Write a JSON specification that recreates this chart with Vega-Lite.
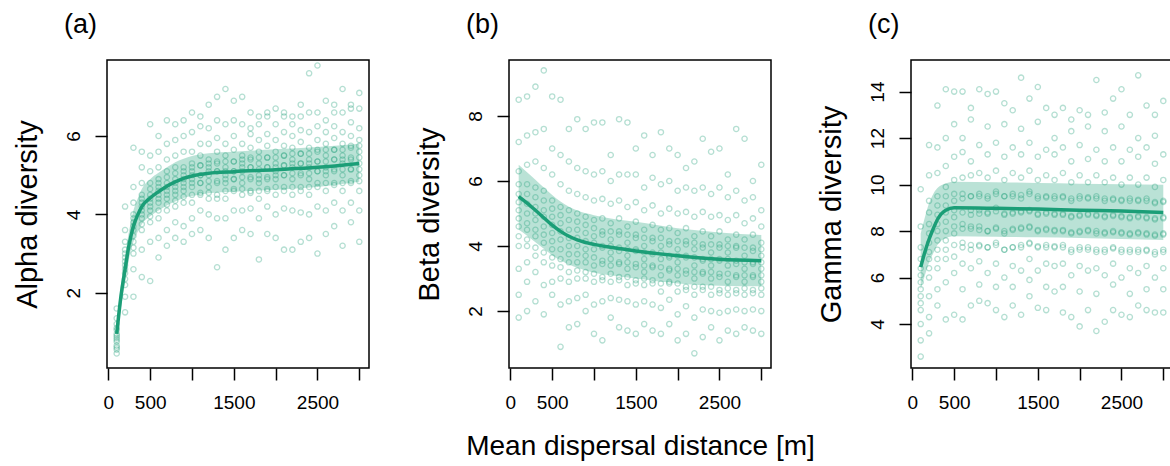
{
"$schema": "https://vega.github.io/schema/vega-lite/v6.json",
"padding": {"left": 12, "top": 10, "right": 0, "bottom": 0},
"bounds": "flush",
"spacing": 140,
"config": {
  "font": "Liberation Sans",
  "view": {"stroke": "#000", "strokeWidth": 1.5},
  "axis": {"grid": false, "domain": false, "tickColor": "#000", "tickWidth": 1.5, "tickSize": 12, "labelFontSize": 19, "labelColor": "#000", "titleFontSize": 29, "titleFontWeight": "normal", "titleColor": "#000", "labelFont": "Liberation Sans", "titleFont": "Liberation Sans"},
  "axisY": {"labelAngle": -90, "labelPadding": 12, "titlePadding": 22, "labelOverlap": false},
  "axisX": {"labelPadding": 13, "titlePadding": 20, "titleFontSize": 28, "labelFlush": false, "labelOverlap": false, "format": "d"},
  "title": {"fontSize": 27, "fontWeight": "normal", "anchor": "start", "frame": "group", "dx": -43, "offset": 21, "baseline": "alphabetic", "font": "Liberation Sans", "color": "#000"}
},
"datasets": {
"pa": [
{"x":100,"y":0.45},{"x":100,"y":0.55},{"x":100,"y":0.65},{"x":100,"y":0.75},{"x":100,"y":0.85},{"x":100,"y":0.95},{"x":100,"y":1.05},{"x":100,"y":1.2},{"x":100,"y":1.35},{"x":100,"y":1.6},
{"x":200,"y":1.5},{"x":200,"y":1.9},{"x":200,"y":2.2},{"x":200,"y":2.5},{"x":200,"y":2.7},{"x":200,"y":2.9},{"x":200,"y":3.1},{"x":200,"y":3.3},{"x":200,"y":3.6},{"x":200,"y":4.2},
{"x":300,"y":1.9},{"x":300,"y":2.6},{"x":300,"y":3.0},{"x":300,"y":3.3},{"x":300,"y":3.6},{"x":300,"y":3.8},{"x":300,"y":4.0},{"x":300,"y":4.3},{"x":300,"y":4.7},{"x":300,"y":5.7},
{"x":400,"y":2.4},{"x":400,"y":3.1},{"x":400,"y":3.6},{"x":400,"y":3.9},{"x":400,"y":4.1},{"x":400,"y":4.3},{"x":400,"y":4.5},{"x":400,"y":4.8},{"x":400,"y":5.2},{"x":400,"y":5.6},
{"x":500,"y":2.3},{"x":500,"y":3.3},{"x":500,"y":3.8},{"x":500,"y":4.1},{"x":500,"y":4.3},{"x":500,"y":4.5},{"x":500,"y":4.8},{"x":500,"y":5.1},{"x":500,"y":5.5},{"x":500,"y":6.3},
{"x":600,"y":2.9},{"x":600,"y":3.4},{"x":600,"y":3.9},{"x":600,"y":4.3},{"x":600,"y":4.5},{"x":600,"y":4.7},{"x":600,"y":4.9},{"x":600,"y":5.2},{"x":600,"y":5.6},{"x":600,"y":6.0},
{"x":700,"y":3.2},{"x":700,"y":3.6},{"x":700,"y":4.1},{"x":700,"y":4.4},{"x":700,"y":4.6},{"x":700,"y":4.8},{"x":700,"y":5.1},{"x":700,"y":5.4},{"x":700,"y":5.8},{"x":700,"y":6.4},
{"x":800,"y":3.4},{"x":800,"y":3.8},{"x":800,"y":4.2},{"x":800,"y":4.5},{"x":800,"y":4.7},{"x":800,"y":4.9},{"x":800,"y":5.2},{"x":800,"y":5.5},{"x":800,"y":5.9},{"x":800,"y":6.3},
{"x":900,"y":3.3},{"x":900,"y":3.7},{"x":900,"y":4.3},{"x":900,"y":4.6},{"x":900,"y":4.8},{"x":900,"y":5.0},{"x":900,"y":5.2},{"x":900,"y":5.6},{"x":900,"y":6.0},{"x":900,"y":6.4},
{"x":1000,"y":3.5},{"x":1000,"y":3.9},{"x":1000,"y":4.3},{"x":1000,"y":4.7},{"x":1000,"y":4.9},{"x":1000,"y":5.1},{"x":1000,"y":5.3},{"x":1000,"y":5.6},{"x":1000,"y":6.1},{"x":1000,"y":6.6},
{"x":1100,"y":3.6},{"x":1100,"y":4.1},{"x":1100,"y":4.5},{"x":1100,"y":4.8},{"x":1100,"y":5.0},{"x":1100,"y":5.25},{"x":1100,"y":5.5},{"x":1100,"y":5.8},{"x":1100,"y":6.25},{"x":1100,"y":6.5},
{"x":1200,"y":3.4},{"x":1200,"y":4.0},{"x":1200,"y":4.4},{"x":1200,"y":4.7},{"x":1200,"y":5.0},{"x":1200,"y":5.2},{"x":1200,"y":5.4},{"x":1200,"y":5.8},{"x":1200,"y":6.2},{"x":1200,"y":6.8},
{"x":1300,"y":2.65},{"x":1300,"y":3.9},{"x":1300,"y":4.4},{"x":1300,"y":4.8},{"x":1300,"y":5.1},{"x":1300,"y":5.3},{"x":1300,"y":5.6},{"x":1300,"y":5.95},{"x":1300,"y":6.4},{"x":1300,"y":7.0},
{"x":1400,"y":3.1},{"x":1400,"y":3.9},{"x":1400,"y":4.4},{"x":1400,"y":4.8},{"x":1400,"y":5.0},{"x":1400,"y":5.2},{"x":1400,"y":5.5},{"x":1400,"y":5.8},{"x":1400,"y":6.3},{"x":1400,"y":7.2},
{"x":1500,"y":3.4},{"x":1500,"y":4.1},{"x":1500,"y":4.6},{"x":1500,"y":4.9},{"x":1500,"y":5.1},{"x":1500,"y":5.35},{"x":1500,"y":5.65},{"x":1500,"y":6.0},{"x":1500,"y":6.4},{"x":1500,"y":6.9},
{"x":1600,"y":3.6},{"x":1600,"y":4.1},{"x":1600,"y":4.5},{"x":1600,"y":4.8},{"x":1600,"y":5.1},{"x":1600,"y":5.3},{"x":1600,"y":5.5},{"x":1600,"y":5.8},{"x":1600,"y":6.3},{"x":1600,"y":7.0},
{"x":1700,"y":3.5},{"x":1700,"y":4.15},{"x":1700,"y":4.55},{"x":1700,"y":4.9},{"x":1700,"y":5.2},{"x":1700,"y":5.4},{"x":1700,"y":5.7},{"x":1700,"y":6.05},{"x":1700,"y":6.2},{"x":1700,"y":6.6},
{"x":1800,"y":2.85},{"x":1800,"y":3.9},{"x":1800,"y":4.4},{"x":1800,"y":4.8},{"x":1800,"y":5.0},{"x":1800,"y":5.3},{"x":1800,"y":5.6},{"x":1800,"y":5.9},{"x":1800,"y":6.3},{"x":1800,"y":6.5},
{"x":1900,"y":3.5},{"x":1900,"y":4.2},{"x":1900,"y":4.6},{"x":1900,"y":4.9},{"x":1900,"y":5.2},{"x":1900,"y":5.45},{"x":1900,"y":5.75},{"x":1900,"y":6.05},{"x":1900,"y":6.5},{"x":1900,"y":6.6},
{"x":2000,"y":3.4},{"x":2000,"y":4.0},{"x":2000,"y":4.5},{"x":2000,"y":4.9},{"x":2000,"y":5.1},{"x":2000,"y":5.3},{"x":2000,"y":5.6},{"x":2000,"y":5.9},{"x":2000,"y":6.3},{"x":2000,"y":6.7},
{"x":2100,"y":3.1},{"x":2100,"y":4.15},{"x":2100,"y":4.6},{"x":2100,"y":5.0},{"x":2100,"y":5.25},{"x":2100,"y":5.5},{"x":2100,"y":5.75},{"x":2100,"y":6.1},{"x":2100,"y":6.5},{"x":2100,"y":6.6},
{"x":2200,"y":3.1},{"x":2200,"y":4.1},{"x":2200,"y":4.5},{"x":2200,"y":4.9},{"x":2200,"y":5.2},{"x":2200,"y":5.4},{"x":2200,"y":5.7},{"x":2200,"y":6.0},{"x":2200,"y":6.3},{"x":2200,"y":6.5},
{"x":2300,"y":3.3},{"x":2300,"y":4.05},{"x":2300,"y":4.6},{"x":2300,"y":5.0},{"x":2300,"y":5.3},{"x":2300,"y":5.55},{"x":2300,"y":5.85},{"x":2300,"y":6.15},{"x":2300,"y":6.5},{"x":2300,"y":6.8},
{"x":2400,"y":3.4},{"x":2400,"y":4.0},{"x":2400,"y":4.5},{"x":2400,"y":4.9},{"x":2400,"y":5.2},{"x":2400,"y":5.4},{"x":2400,"y":5.7},{"x":2400,"y":6.1},{"x":2400,"y":6.6},{"x":2400,"y":7.6},
{"x":2500,"y":3.0},{"x":2500,"y":4.2},{"x":2500,"y":4.7},{"x":2500,"y":5.1},{"x":2500,"y":5.35},{"x":2500,"y":5.6},{"x":2500,"y":5.9},{"x":2500,"y":6.25},{"x":2500,"y":6.6},{"x":2500,"y":7.8},
{"x":2600,"y":3.5},{"x":2600,"y":4.1},{"x":2600,"y":4.6},{"x":2600,"y":5.0},{"x":2600,"y":5.2},{"x":2600,"y":5.5},{"x":2600,"y":5.8},{"x":2600,"y":6.1},{"x":2600,"y":6.4},{"x":2600,"y":6.9},
{"x":2700,"y":3.7},{"x":2700,"y":4.3},{"x":2700,"y":4.75},{"x":2700,"y":5.1},{"x":2700,"y":5.4},{"x":2700,"y":5.65},{"x":2700,"y":5.95},{"x":2700,"y":6.25},{"x":2700,"y":6.6},{"x":2700,"y":6.8},
{"x":2800,"y":3.2},{"x":2800,"y":4.1},{"x":2800,"y":4.6},{"x":2800,"y":5.0},{"x":2800,"y":5.3},{"x":2800,"y":5.5},{"x":2800,"y":5.8},{"x":2800,"y":6.1},{"x":2800,"y":6.6},{"x":2800,"y":7.2},
{"x":2900,"y":3.8},{"x":2900,"y":4.3},{"x":2900,"y":4.8},{"x":2900,"y":5.15},{"x":2900,"y":5.4},{"x":2900,"y":5.7},{"x":2900,"y":6.0},{"x":2900,"y":6.35},{"x":2900,"y":6.7},{"x":2900,"y":6.8},
{"x":3000,"y":3.3},{"x":3000,"y":4.1},{"x":3000,"y":4.6},{"x":3000,"y":5.0},{"x":3000,"y":5.3},{"x":3000,"y":5.6},{"x":3000,"y":5.9},{"x":3000,"y":6.2},{"x":3000,"y":6.7},{"x":3000,"y":7.1},
{"x":100,"y":0.6},{"x":100,"y":0.8},{"x":100,"y":0.9},{"x":100,"y":1.1},
{"x":200,"y":2.35},{"x":200,"y":2.6},{"x":200,"y":2.8},{"x":200,"y":3.0},
{"x":300,"y":3.15},{"x":300,"y":3.45},{"x":300,"y":3.7},{"x":300,"y":3.9},
{"x":400,"y":3.75},{"x":400,"y":4.0},{"x":400,"y":4.2},{"x":400,"y":4.4},
{"x":500,"y":3.95},{"x":500,"y":4.2},{"x":500,"y":4.4},{"x":500,"y":4.65},
{"x":600,"y":4.1},{"x":600,"y":4.4},{"x":600,"y":4.6},{"x":600,"y":4.8},
{"x":700,"y":4.25},{"x":700,"y":4.5},{"x":700,"y":4.7},{"x":700,"y":4.95},
{"x":800,"y":4.35},{"x":800,"y":4.6},{"x":800,"y":4.8},{"x":800,"y":5.05},
{"x":900,"y":4.45},{"x":900,"y":4.7},{"x":900,"y":4.9},{"x":900,"y":5.1},
{"x":1000,"y":4.5},{"x":1000,"y":4.8},{"x":1000,"y":5.0},{"x":1000,"y":5.2},
{"x":1100,"y":4.55},{"x":1100,"y":4.8},{"x":1100,"y":5.0},{"x":1100,"y":5.25},
{"x":1200,"y":4.55},{"x":1200,"y":4.85},{"x":1200,"y":5.1},{"x":1200,"y":5.3},
{"x":1300,"y":4.5},{"x":1300,"y":4.85},{"x":1300,"y":5.1},{"x":1300,"y":5.35},
{"x":1400,"y":4.6},{"x":1400,"y":4.9},{"x":1400,"y":5.1},{"x":1400,"y":5.35},
{"x":1500,"y":4.65},{"x":1500,"y":4.9},{"x":1500,"y":5.1},{"x":1500,"y":5.35},
{"x":1600,"y":4.65},{"x":1600,"y":4.95},{"x":1600,"y":5.2},{"x":1600,"y":5.4},
{"x":1700,"y":4.6},{"x":1700,"y":4.95},{"x":1700,"y":5.2},{"x":1700,"y":5.45},
{"x":1800,"y":4.6},{"x":1800,"y":4.9},{"x":1800,"y":5.15},{"x":1800,"y":5.45},
{"x":1900,"y":4.65},{"x":1900,"y":4.95},{"x":1900,"y":5.2},{"x":1900,"y":5.45},
{"x":2000,"y":4.7},{"x":2000,"y":5.0},{"x":2000,"y":5.2},{"x":2000,"y":5.45},
{"x":2100,"y":4.7},{"x":2100,"y":5.0},{"x":2100,"y":5.25},{"x":2100,"y":5.5},
{"x":2200,"y":4.7},{"x":2200,"y":5.05},{"x":2200,"y":5.3},{"x":2200,"y":5.55},
{"x":2300,"y":4.7},{"x":2300,"y":5.05},{"x":2300,"y":5.3},{"x":2300,"y":5.55},
{"x":2400,"y":4.7},{"x":2400,"y":5.05},{"x":2400,"y":5.3},{"x":2400,"y":5.55},
{"x":2500,"y":4.8},{"x":2500,"y":5.1},{"x":2500,"y":5.35},{"x":2500,"y":5.65},
{"x":2600,"y":4.8},{"x":2600,"y":5.1},{"x":2600,"y":5.35},{"x":2600,"y":5.65},
{"x":2700,"y":4.8},{"x":2700,"y":5.15},{"x":2700,"y":5.4},{"x":2700,"y":5.65},
{"x":2800,"y":4.8},{"x":2800,"y":5.15},{"x":2800,"y":5.4},{"x":2800,"y":5.65},
{"x":2900,"y":4.85},{"x":2900,"y":5.15},{"x":2900,"y":5.45},{"x":2900,"y":5.75},
{"x":3000,"y":4.85},{"x":3000,"y":5.15},{"x":3000,"y":5.45},{"x":3000,"y":5.75}
],
"pb": [
{"x":100,"y":1.8},{"x":100,"y":2.5},{"x":100,"y":3.3},{"x":100,"y":4.0},{"x":100,"y":4.6},{"x":100,"y":5.1},{"x":100,"y":5.6},{"x":100,"y":6.3},{"x":100,"y":7.2},{"x":100,"y":8.5},
{"x":200,"y":2.0},{"x":200,"y":2.9},{"x":200,"y":3.5},{"x":200,"y":4.2},{"x":200,"y":4.7},{"x":200,"y":5.3},{"x":200,"y":5.9},{"x":200,"y":6.5},{"x":200,"y":7.4},{"x":200,"y":8.6},
{"x":300,"y":2.3},{"x":300,"y":3.2},{"x":300,"y":3.7},{"x":300,"y":4.3},{"x":300,"y":4.8},{"x":300,"y":5.2},{"x":300,"y":5.8},{"x":300,"y":6.6},{"x":300,"y":7.5},{"x":300,"y":8.9},
{"x":400,"y":1.9},{"x":400,"y":2.8},{"x":400,"y":3.5},{"x":400,"y":4.1},{"x":400,"y":4.6},{"x":400,"y":5.1},{"x":400,"y":5.7},{"x":400,"y":6.4},{"x":400,"y":7.6},{"x":400,"y":9.4},
{"x":500,"y":2.5},{"x":500,"y":2.9},{"x":500,"y":3.4},{"x":500,"y":3.9},{"x":500,"y":4.4},{"x":500,"y":4.9},{"x":500,"y":5.4},{"x":500,"y":6.2},{"x":500,"y":7.0},{"x":500,"y":8.6},
{"x":600,"y":0.9},{"x":600,"y":2.2},{"x":600,"y":3.0},{"x":600,"y":3.6},{"x":600,"y":4.2},{"x":600,"y":4.7},{"x":600,"y":5.2},{"x":600,"y":5.9},{"x":600,"y":6.8},{"x":600,"y":8.5},
{"x":700,"y":1.5},{"x":700,"y":2.3},{"x":700,"y":2.9},{"x":700,"y":3.5},{"x":700,"y":4.0},{"x":700,"y":4.5},{"x":700,"y":5.1},{"x":700,"y":5.7},{"x":700,"y":6.6},{"x":700,"y":7.6},
{"x":800,"y":1.6},{"x":800,"y":2.4},{"x":800,"y":3.0},{"x":800,"y":3.5},{"x":800,"y":4.0},{"x":800,"y":4.5},{"x":800,"y":5.0},{"x":800,"y":5.6},{"x":800,"y":6.4},{"x":800,"y":7.9},
{"x":900,"y":2.0},{"x":900,"y":2.5},{"x":900,"y":3.0},{"x":900,"y":3.5},{"x":900,"y":3.9},{"x":900,"y":4.4},{"x":900,"y":4.9},{"x":900,"y":5.5},{"x":900,"y":6.3},{"x":900,"y":7.6},
{"x":1000,"y":1.3},{"x":1000,"y":2.2},{"x":1000,"y":2.9},{"x":1000,"y":3.4},{"x":1000,"y":3.9},{"x":1000,"y":4.3},{"x":1000,"y":4.8},{"x":1000,"y":5.4},{"x":1000,"y":6.2},{"x":1000,"y":7.8},
{"x":1100,"y":1.1},{"x":1100,"y":2.3},{"x":1100,"y":2.95},{"x":1100,"y":3.45},{"x":1100,"y":3.95},{"x":1100,"y":4.35},{"x":1100,"y":4.85},{"x":1100,"y":5.45},{"x":1100,"y":6.3},{"x":1100,"y":7.8},
{"x":1200,"y":1.8},{"x":1200,"y":2.4},{"x":1200,"y":2.9},{"x":1200,"y":3.4},{"x":1200,"y":3.8},{"x":1200,"y":4.2},{"x":1200,"y":4.7},{"x":1200,"y":5.3},{"x":1200,"y":6.0},{"x":1200,"y":6.8},
{"x":1300,"y":1.5},{"x":1300,"y":2.35},{"x":1300,"y":2.95},{"x":1300,"y":3.45},{"x":1300,"y":3.85},{"x":1300,"y":4.35},{"x":1300,"y":4.85},{"x":1300,"y":5.4},{"x":1300,"y":6.2},{"x":1300,"y":7.9},
{"x":1400,"y":1.4},{"x":1400,"y":2.3},{"x":1400,"y":2.8},{"x":1400,"y":3.3},{"x":1400,"y":3.7},{"x":1400,"y":4.1},{"x":1400,"y":4.6},{"x":1400,"y":5.2},{"x":1400,"y":6.2},{"x":1400,"y":7.8},
{"x":1500,"y":1.3},{"x":1500,"y":2.2},{"x":1500,"y":2.85},{"x":1500,"y":3.35},{"x":1500,"y":3.85},{"x":1500,"y":4.25},{"x":1500,"y":4.75},{"x":1500,"y":5.35},{"x":1500,"y":6.2},{"x":1500,"y":7.0},
{"x":1600,"y":1.6},{"x":1600,"y":2.3},{"x":1600,"y":2.8},{"x":1600,"y":3.2},{"x":1600,"y":3.6},{"x":1600,"y":4.0},{"x":1600,"y":4.5},{"x":1600,"y":5.1},{"x":1600,"y":5.8},{"x":1600,"y":7.4},
{"x":1700,"y":1.4},{"x":1700,"y":2.2},{"x":1700,"y":2.85},{"x":1700,"y":3.35},{"x":1700,"y":3.75},{"x":1700,"y":4.15},{"x":1700,"y":4.65},{"x":1700,"y":5.25},{"x":1700,"y":6.1},{"x":1700,"y":6.8},
{"x":1800,"y":1.3},{"x":1800,"y":2.1},{"x":1800,"y":2.6},{"x":1800,"y":3.1},{"x":1800,"y":3.6},{"x":1800,"y":4.0},{"x":1800,"y":4.5},{"x":1800,"y":5.0},{"x":1800,"y":5.9},{"x":1800,"y":7.5},
{"x":1900,"y":1.6},{"x":1900,"y":2.35},{"x":1900,"y":2.85},{"x":1900,"y":3.25},{"x":1900,"y":3.65},{"x":1900,"y":4.05},{"x":1900,"y":4.55},{"x":1900,"y":5.15},{"x":1900,"y":6.0},{"x":1900,"y":7.0},
{"x":2000,"y":1.1},{"x":2000,"y":1.9},{"x":2000,"y":2.6},{"x":2000,"y":3.1},{"x":2000,"y":3.5},{"x":2000,"y":3.9},{"x":2000,"y":4.4},{"x":2000,"y":5.0},{"x":2000,"y":5.7},{"x":2000,"y":6.8},
{"x":2100,"y":1.3},{"x":2100,"y":2.15},{"x":2100,"y":2.65},{"x":2100,"y":3.15},{"x":2100,"y":3.65},{"x":2100,"y":4.05},{"x":2100,"y":4.55},{"x":2100,"y":5.05},{"x":2100,"y":5.8},{"x":2100,"y":6.4},
{"x":2200,"y":0.7},{"x":2200,"y":1.8},{"x":2200,"y":2.5},{"x":2200,"y":3.0},{"x":2200,"y":3.4},{"x":2200,"y":3.9},{"x":2200,"y":4.3},{"x":2200,"y":4.9},{"x":2200,"y":5.7},{"x":2200,"y":6.6},
{"x":2300,"y":1.2},{"x":2300,"y":2.05},{"x":2300,"y":2.65},{"x":2300,"y":3.15},{"x":2300,"y":3.55},{"x":2300,"y":3.95},{"x":2300,"y":4.45},{"x":2300,"y":5.05},{"x":2300,"y":5.8},{"x":2300,"y":7.3},
{"x":2400,"y":1.5},{"x":2400,"y":2.0},{"x":2400,"y":2.5},{"x":2400,"y":3.0},{"x":2400,"y":3.4},{"x":2400,"y":3.8},{"x":2400,"y":4.3},{"x":2400,"y":4.9},{"x":2400,"y":5.6},{"x":2400,"y":6.9},
{"x":2500,"y":1.1},{"x":2500,"y":1.95},{"x":2500,"y":2.55},{"x":2500,"y":3.05},{"x":2500,"y":3.55},{"x":2500,"y":3.95},{"x":2500,"y":4.45},{"x":2500,"y":4.95},{"x":2500,"y":5.8},{"x":2500,"y":7.0},
{"x":2600,"y":1.4},{"x":2600,"y":2.0},{"x":2600,"y":2.5},{"x":2600,"y":2.9},{"x":2600,"y":3.4},{"x":2600,"y":3.8},{"x":2600,"y":4.2},{"x":2600,"y":4.8},{"x":2600,"y":5.5},{"x":2600,"y":6.2},
{"x":2700,"y":1.3},{"x":2700,"y":2.05},{"x":2700,"y":2.55},{"x":2700,"y":3.05},{"x":2700,"y":3.45},{"x":2700,"y":3.95},{"x":2700,"y":4.35},{"x":2700,"y":4.95},{"x":2700,"y":5.7},{"x":2700,"y":7.6},
{"x":2800,"y":1.5},{"x":2800,"y":2.0},{"x":2800,"y":2.5},{"x":2800,"y":2.9},{"x":2800,"y":3.3},{"x":2800,"y":3.7},{"x":2800,"y":4.2},{"x":2800,"y":4.7},{"x":2800,"y":5.4},{"x":2800,"y":7.3},
{"x":2900,"y":1.4},{"x":2900,"y":2.05},{"x":2900,"y":2.55},{"x":2900,"y":3.05},{"x":2900,"y":3.45},{"x":2900,"y":3.85},{"x":2900,"y":4.35},{"x":2900,"y":4.85},{"x":2900,"y":5.5},{"x":2900,"y":6.0},
{"x":3000,"y":1.3},{"x":3000,"y":2.0},{"x":3000,"y":2.5},{"x":3000,"y":2.9},{"x":3000,"y":3.3},{"x":3000,"y":3.7},{"x":3000,"y":4.1},{"x":3000,"y":4.6},{"x":3000,"y":5.1},{"x":3000,"y":6.5},
{"x":100,"y":4.3},{"x":100,"y":4.85},{"x":100,"y":5.35},{"x":100,"y":5.9},
{"x":200,"y":4.0},{"x":200,"y":4.5},{"x":200,"y":5.0},{"x":200,"y":5.6},
{"x":300,"y":3.95},{"x":300,"y":4.5},{"x":300,"y":5.0},{"x":300,"y":5.5},
{"x":400,"y":3.8},{"x":400,"y":4.35},{"x":400,"y":4.9},{"x":400,"y":5.4},
{"x":500,"y":3.65},{"x":500,"y":4.15},{"x":500,"y":4.65},{"x":500,"y":5.15},
{"x":600,"y":3.35},{"x":600,"y":3.9},{"x":600,"y":4.45},{"x":600,"y":4.95},
{"x":700,"y":3.2},{"x":700,"y":3.75},{"x":700,"y":4.25},{"x":700,"y":4.8},
{"x":800,"y":3.25},{"x":800,"y":3.75},{"x":800,"y":4.25},{"x":800,"y":4.75},
{"x":900,"y":3.2},{"x":900,"y":3.7},{"x":900,"y":4.15},{"x":900,"y":4.65},
{"x":1000,"y":3.15},{"x":1000,"y":3.65},{"x":1000,"y":4.1},{"x":1000,"y":4.55},
{"x":1100,"y":3.05},{"x":1100,"y":3.55},{"x":1100,"y":4.0},{"x":1100,"y":4.45},
{"x":1200,"y":3.15},{"x":1200,"y":3.6},{"x":1200,"y":4.0},{"x":1200,"y":4.45},
{"x":1300,"y":3.05},{"x":1300,"y":3.5},{"x":1300,"y":3.95},{"x":1300,"y":4.45},
{"x":1400,"y":3.05},{"x":1400,"y":3.5},{"x":1400,"y":3.9},{"x":1400,"y":4.35},
{"x":1500,"y":2.95},{"x":1500,"y":3.45},{"x":1500,"y":3.9},{"x":1500,"y":4.35},
{"x":1600,"y":3.0},{"x":1600,"y":3.4},{"x":1600,"y":3.8},{"x":1600,"y":4.25},
{"x":1700,"y":2.95},{"x":1700,"y":3.4},{"x":1700,"y":3.8},{"x":1700,"y":4.25},
{"x":1800,"y":2.85},{"x":1800,"y":3.35},{"x":1800,"y":3.8},{"x":1800,"y":4.25},
{"x":1900,"y":2.9},{"x":1900,"y":3.3},{"x":1900,"y":3.7},{"x":1900,"y":4.15},
{"x":2000,"y":2.85},{"x":2000,"y":3.3},{"x":2000,"y":3.7},{"x":2000,"y":4.15},
{"x":2100,"y":2.75},{"x":2100,"y":3.25},{"x":2100,"y":3.7},{"x":2100,"y":4.15},
{"x":2200,"y":2.75},{"x":2200,"y":3.2},{"x":2200,"y":3.65},{"x":2200,"y":4.1},
{"x":2300,"y":2.75},{"x":2300,"y":3.2},{"x":2300,"y":3.6},{"x":2300,"y":4.05},
{"x":2400,"y":2.75},{"x":2400,"y":3.2},{"x":2400,"y":3.6},{"x":2400,"y":4.05},
{"x":2500,"y":2.65},{"x":2500,"y":3.15},{"x":2500,"y":3.6},{"x":2500,"y":4.05},
{"x":2600,"y":2.7},{"x":2600,"y":3.15},{"x":2600,"y":3.6},{"x":2600,"y":4.0},
{"x":2700,"y":2.65},{"x":2700,"y":3.1},{"x":2700,"y":3.55},{"x":2700,"y":4.0},
{"x":2800,"y":2.7},{"x":2800,"y":3.1},{"x":2800,"y":3.5},{"x":2800,"y":3.95},
{"x":2900,"y":2.65},{"x":2900,"y":3.1},{"x":2900,"y":3.5},{"x":2900,"y":3.95},
{"x":3000,"y":2.7},{"x":3000,"y":3.1},{"x":3000,"y":3.5},{"x":3000,"y":3.9}
],
"pc": [
{"x":100,"y":2.6},{"x":100,"y":3.3},{"x":100,"y":4.0},{"x":100,"y":4.6},{"x":100,"y":5.2},{"x":100,"y":5.8},{"x":100,"y":6.4},{"x":100,"y":7.3},{"x":100,"y":8.2},{"x":100,"y":9.8},
{"x":200,"y":3.6},{"x":200,"y":4.3},{"x":200,"y":5.2},{"x":200,"y":6.0},{"x":200,"y":6.8},{"x":200,"y":7.5},{"x":200,"y":8.3},{"x":200,"y":9.3},{"x":200,"y":10.4},{"x":200,"y":11.7},
{"x":300,"y":4.8},{"x":300,"y":5.5},{"x":300,"y":6.4},{"x":300,"y":7.2},{"x":300,"y":8.0},{"x":300,"y":8.7},{"x":300,"y":9.5},{"x":300,"y":10.5},{"x":300,"y":11.6},{"x":300,"y":13.4},
{"x":400,"y":4.2},{"x":400,"y":5.8},{"x":400,"y":6.8},{"x":400,"y":7.6},{"x":400,"y":8.4},{"x":400,"y":9.1},{"x":400,"y":9.9},{"x":400,"y":10.8},{"x":400,"y":12.0},{"x":400,"y":14.1},
{"x":500,"y":4.4},{"x":500,"y":6.2},{"x":500,"y":6.9},{"x":500,"y":7.9},{"x":500,"y":8.6},{"x":500,"y":9.3},{"x":500,"y":10.2},{"x":500,"y":11.2},{"x":500,"y":12.6},{"x":500,"y":14.0},
{"x":600,"y":4.2},{"x":600,"y":5.5},{"x":600,"y":6.6},{"x":600,"y":7.5},{"x":600,"y":8.3},{"x":600,"y":9.4},{"x":600,"y":10.3},{"x":600,"y":11.4},{"x":600,"y":12.0},{"x":600,"y":14.0},
{"x":700,"y":4.8},{"x":700,"y":6.4},{"x":700,"y":7.2},{"x":700,"y":8.1},{"x":700,"y":8.7},{"x":700,"y":9.5},{"x":700,"y":10.4},{"x":700,"y":11.0},{"x":700,"y":12.8},{"x":700,"y":13.3},
{"x":800,"y":5.0},{"x":800,"y":5.7},{"x":800,"y":6.7},{"x":800,"y":7.4},{"x":800,"y":8.2},{"x":800,"y":8.9},{"x":800,"y":9.6},{"x":800,"y":10.5},{"x":800,"y":11.7},{"x":800,"y":14.1},
{"x":900,"y":4.9},{"x":900,"y":6.2},{"x":900,"y":7.3},{"x":900,"y":8.0},{"x":900,"y":8.8},{"x":900,"y":9.4},{"x":900,"y":10.3},{"x":900,"y":11.3},{"x":900,"y":12.5},{"x":900,"y":13.9},
{"x":1000,"y":4.6},{"x":1000,"y":5.6},{"x":1000,"y":6.6},{"x":1000,"y":7.5},{"x":1000,"y":8.1},{"x":1000,"y":9.0},{"x":1000,"y":9.7},{"x":1000,"y":10.6},{"x":1000,"y":11.8},{"x":1000,"y":14.0},
{"x":1100,"y":4.3},{"x":1100,"y":6.0},{"x":1100,"y":7.2},{"x":1100,"y":7.9},{"x":1100,"y":8.7},{"x":1100,"y":9.5},{"x":1100,"y":10.2},{"x":1100,"y":11.2},{"x":1100,"y":12.6},{"x":1100,"y":13.5},
{"x":1200,"y":4.8},{"x":1200,"y":5.6},{"x":1200,"y":6.5},{"x":1200,"y":7.3},{"x":1200,"y":8.1},{"x":1200,"y":8.8},{"x":1200,"y":9.6},{"x":1200,"y":10.5},{"x":1200,"y":11.6},{"x":1200,"y":13.2},
{"x":1300,"y":4.4},{"x":1300,"y":6.3},{"x":1300,"y":7.3},{"x":1300,"y":8.1},{"x":1300,"y":8.8},{"x":1300,"y":9.4},{"x":1300,"y":10.3},{"x":1300,"y":11.3},{"x":1300,"y":12.4},{"x":1300,"y":14.6},
{"x":1400,"y":5.2},{"x":1400,"y":5.9},{"x":1400,"y":6.8},{"x":1400,"y":7.5},{"x":1400,"y":8.2},{"x":1400,"y":8.9},{"x":1400,"y":9.7},{"x":1400,"y":10.6},{"x":1400,"y":11.8},{"x":1400,"y":13.7},
{"x":1500,"y":4.7},{"x":1500,"y":6.3},{"x":1500,"y":7.3},{"x":1500,"y":8.0},{"x":1500,"y":8.7},{"x":1500,"y":9.4},{"x":1500,"y":10.2},{"x":1500,"y":11.2},{"x":1500,"y":12.7},{"x":1500,"y":14.2},
{"x":1600,"y":4.6},{"x":1600,"y":5.6},{"x":1600,"y":6.6},{"x":1600,"y":7.4},{"x":1600,"y":8.1},{"x":1600,"y":8.8},{"x":1600,"y":9.5},{"x":1600,"y":10.4},{"x":1600,"y":11.5},{"x":1600,"y":13.3},
{"x":1700,"y":5.4},{"x":1700,"y":6.5},{"x":1700,"y":7.3},{"x":1700,"y":8.0},{"x":1700,"y":8.7},{"x":1700,"y":9.4},{"x":1700,"y":10.2},{"x":1700,"y":11.3},{"x":1700,"y":12.0},{"x":1700,"y":13.0},
{"x":1800,"y":4.5},{"x":1800,"y":5.6},{"x":1800,"y":6.6},{"x":1800,"y":7.4},{"x":1800,"y":8.0},{"x":1800,"y":8.7},{"x":1800,"y":9.5},{"x":1800,"y":10.5},{"x":1800,"y":11.6},{"x":1800,"y":13.3},
{"x":1900,"y":4.3},{"x":1900,"y":6.1},{"x":1900,"y":7.1},{"x":1900,"y":7.9},{"x":1900,"y":8.6},{"x":1900,"y":9.3},{"x":1900,"y":10.1},{"x":1900,"y":11.0},{"x":1900,"y":12.3},{"x":1900,"y":12.8},
{"x":2000,"y":3.9},{"x":2000,"y":5.4},{"x":2000,"y":6.5},{"x":2000,"y":7.3},{"x":2000,"y":8.0},{"x":2000,"y":8.7},{"x":2000,"y":9.5},{"x":2000,"y":10.4},{"x":2000,"y":11.7},{"x":2000,"y":13.2},
{"x":2100,"y":4.6},{"x":2100,"y":6.3},{"x":2100,"y":7.2},{"x":2100,"y":8.0},{"x":2100,"y":8.7},{"x":2100,"y":9.4},{"x":2100,"y":10.1},{"x":2100,"y":11.1},{"x":2100,"y":12.5},{"x":2100,"y":13.0},
{"x":2200,"y":3.7},{"x":2200,"y":5.3},{"x":2200,"y":6.4},{"x":2200,"y":7.2},{"x":2200,"y":8.0},{"x":2200,"y":8.7},{"x":2200,"y":9.5},{"x":2200,"y":10.4},{"x":2200,"y":11.5},{"x":2200,"y":14.5},
{"x":2300,"y":4.1},{"x":2300,"y":6.1},{"x":2300,"y":7.1},{"x":2300,"y":7.9},{"x":2300,"y":8.6},{"x":2300,"y":9.3},{"x":2300,"y":10.1},{"x":2300,"y":11.0},{"x":2300,"y":12.3},{"x":2300,"y":13.1},
{"x":2400,"y":4.6},{"x":2400,"y":5.7},{"x":2400,"y":6.6},{"x":2400,"y":7.3},{"x":2400,"y":8.0},{"x":2400,"y":8.7},{"x":2400,"y":9.4},{"x":2400,"y":10.3},{"x":2400,"y":11.6},{"x":2400,"y":13.7},
{"x":2500,"y":4.4},{"x":2500,"y":6.0},{"x":2500,"y":7.1},{"x":2500,"y":7.9},{"x":2500,"y":8.6},{"x":2500,"y":9.3},{"x":2500,"y":10.0},{"x":2500,"y":11.0},{"x":2500,"y":12.5},{"x":2500,"y":14.1},
{"x":2600,"y":4.3},{"x":2600,"y":5.3},{"x":2600,"y":6.4},{"x":2600,"y":7.2},{"x":2600,"y":7.9},{"x":2600,"y":8.6},{"x":2600,"y":9.4},{"x":2600,"y":10.3},{"x":2600,"y":11.5},{"x":2600,"y":13.0},
{"x":2700,"y":4.8},{"x":2700,"y":6.2},{"x":2700,"y":7.1},{"x":2700,"y":7.9},{"x":2700,"y":8.6},{"x":2700,"y":9.3},{"x":2700,"y":10.0},{"x":2700,"y":11.2},{"x":2700,"y":12.0},{"x":2700,"y":14.7},
{"x":2800,"y":4.6},{"x":2800,"y":5.5},{"x":2800,"y":6.5},{"x":2800,"y":7.2},{"x":2800,"y":7.9},{"x":2800,"y":8.6},{"x":2800,"y":9.4},{"x":2800,"y":10.3},{"x":2800,"y":11.6},{"x":2800,"y":13.4},
{"x":2900,"y":4.5},{"x":2900,"y":6.0},{"x":2900,"y":7.0},{"x":2900,"y":7.8},{"x":2900,"y":8.5},{"x":2900,"y":9.2},{"x":2900,"y":9.9},{"x":2900,"y":10.9},{"x":2900,"y":12.1},{"x":2900,"y":13.0},
{"x":3000,"y":4.5},{"x":3000,"y":5.5},{"x":3000,"y":6.4},{"x":3000,"y":7.2},{"x":3000,"y":7.9},{"x":3000,"y":8.6},{"x":3000,"y":9.3},{"x":3000,"y":10.2},{"x":3000,"y":11.3},{"x":3000,"y":13.6},
{"x":100,"y":4.9},{"x":100,"y":5.5},{"x":100,"y":6.1},{"x":100,"y":6.8},
{"x":200,"y":6.4},{"x":200,"y":7.1},{"x":200,"y":7.9},{"x":200,"y":8.8},
{"x":300,"y":6.8},{"x":300,"y":7.6},{"x":300,"y":8.3},{"x":300,"y":9.1},
{"x":400,"y":7.2},{"x":400,"y":8.0},{"x":400,"y":8.8},{"x":400,"y":9.5},
{"x":500,"y":7.4},{"x":500,"y":8.2},{"x":500,"y":8.9},{"x":500,"y":9.6},
{"x":600,"y":7.3},{"x":600,"y":8.1},{"x":600,"y":8.8},{"x":600,"y":9.6},
{"x":700,"y":7.4},{"x":700,"y":8.2},{"x":700,"y":8.9},{"x":700,"y":9.5},
{"x":800,"y":7.35},{"x":800,"y":8.05},{"x":800,"y":8.75},{"x":800,"y":9.5},
{"x":900,"y":7.3},{"x":900,"y":8.0},{"x":900,"y":8.75},{"x":900,"y":9.5},
{"x":1000,"y":7.4},{"x":1000,"y":8.15},{"x":1000,"y":8.85},{"x":1000,"y":9.6},
{"x":1100,"y":7.2},{"x":1100,"y":8.0},{"x":1100,"y":8.75},{"x":1100,"y":9.5},
{"x":1200,"y":7.3},{"x":1200,"y":8.05},{"x":1200,"y":8.75},{"x":1200,"y":9.5},
{"x":1300,"y":7.4},{"x":1300,"y":8.15},{"x":1300,"y":8.85},{"x":1300,"y":9.55},
{"x":1400,"y":7.45},{"x":1400,"y":8.15},{"x":1400,"y":8.85},{"x":1400,"y":9.6},
{"x":1500,"y":7.35},{"x":1500,"y":8.05},{"x":1500,"y":8.75},{"x":1500,"y":9.5},
{"x":1600,"y":7.3},{"x":1600,"y":8.05},{"x":1600,"y":8.75},{"x":1600,"y":9.45},
{"x":1700,"y":7.35},{"x":1700,"y":8.05},{"x":1700,"y":8.75},{"x":1700,"y":9.5},
{"x":1800,"y":7.3},{"x":1800,"y":8.05},{"x":1800,"y":8.75},{"x":1800,"y":9.45},
{"x":1900,"y":7.2},{"x":1900,"y":7.95},{"x":1900,"y":8.65},{"x":1900,"y":9.4},
{"x":2000,"y":7.2},{"x":2000,"y":7.95},{"x":2000,"y":8.65},{"x":2000,"y":9.4},
{"x":2100,"y":7.3},{"x":2100,"y":8.05},{"x":2100,"y":8.75},{"x":2100,"y":9.45},
{"x":2200,"y":7.1},{"x":2200,"y":7.9},{"x":2200,"y":8.65},{"x":2200,"y":9.4},
{"x":2300,"y":7.2},{"x":2300,"y":7.95},{"x":2300,"y":8.65},{"x":2300,"y":9.4},
{"x":2400,"y":7.25},{"x":2400,"y":7.95},{"x":2400,"y":8.65},{"x":2400,"y":9.35},
{"x":2500,"y":7.2},{"x":2500,"y":7.95},{"x":2500,"y":8.65},{"x":2500,"y":9.35},
{"x":2600,"y":7.1},{"x":2600,"y":7.85},{"x":2600,"y":8.55},{"x":2600,"y":9.3},
{"x":2700,"y":7.2},{"x":2700,"y":7.95},{"x":2700,"y":8.65},{"x":2700,"y":9.35},
{"x":2800,"y":7.15},{"x":2800,"y":7.85},{"x":2800,"y":8.55},{"x":2800,"y":9.3},
{"x":2900,"y":7.1},{"x":2900,"y":7.85},{"x":2900,"y":8.55},{"x":2900,"y":9.25},
{"x":3000,"y":7.1},{"x":3000,"y":7.85},{"x":3000,"y":8.55},{"x":3000,"y":9.25}
],
"la": [
{"x":100,"y":0.95,"lo":0.7,"hi":1.25},{"x":150,"y":1.9,"lo":1.6,"hi":2.2},{"x":200,"y":2.6,"lo":2.25,"hi":2.95},{"x":250,"y":3.25,"lo":2.9,"hi":3.6},{"x":300,"y":3.7,"lo":3.3,"hi":4.1},{"x":350,"y":3.98,"lo":3.55,"hi":4.4},{"x":400,"y":4.2,"lo":3.75,"hi":4.65},{"x":500,"y":4.42,"lo":3.95,"hi":4.9},{"x":600,"y":4.58,"lo":4.1,"hi":5.06},{"x":700,"y":4.72,"lo":4.23,"hi":5.2},{"x":800,"y":4.83,"lo":4.33,"hi":5.33},{"x":900,"y":4.92,"lo":4.42,"hi":5.42},{"x":1000,"y":4.98,"lo":4.47,"hi":5.49},{"x":1200,"y":5.05,"lo":4.54,"hi":5.56},{"x":1500,"y":5.09,"lo":4.58,"hi":5.6},{"x":2000,"y":5.14,"lo":4.63,"hi":5.66},{"x":2500,"y":5.2,"lo":4.7,"hi":5.72},{"x":3000,"y":5.3,"lo":4.83,"hi":5.8}
],
"lb": [
{"x":100,"y":5.52,"lo":4.5,"hi":6.5},{"x":200,"y":5.32,"lo":4.32,"hi":6.27},{"x":300,"y":5.1,"lo":4.12,"hi":6.04},{"x":400,"y":4.87,"lo":3.92,"hi":5.8},{"x":500,"y":4.64,"lo":3.72,"hi":5.57},{"x":600,"y":4.45,"lo":3.56,"hi":5.37},{"x":700,"y":4.3,"lo":3.43,"hi":5.21},{"x":800,"y":4.19,"lo":3.33,"hi":5.09},{"x":1000,"y":4.05,"lo":3.18,"hi":4.95},{"x":1200,"y":3.96,"lo":3.1,"hi":4.85},{"x":1500,"y":3.85,"lo":3.0,"hi":4.75},{"x":2000,"y":3.7,"lo":2.85,"hi":4.55},{"x":2500,"y":3.59,"lo":2.78,"hi":4.42},{"x":3000,"y":3.55,"lo":2.76,"hi":4.34}
],
"lc": [
{"x":100,"y":6.45,"lo":5.5,"hi":7.9},{"x":150,"y":7.1,"lo":6.1,"hi":8.6},{"x":200,"y":7.65,"lo":6.65,"hi":9.2},{"x":250,"y":8.1,"lo":7.05,"hi":9.6},{"x":300,"y":8.5,"lo":7.4,"hi":9.85},{"x":400,"y":8.9,"lo":7.7,"hi":10.05},{"x":500,"y":9.0,"lo":7.78,"hi":10.12},{"x":1000,"y":8.98,"lo":7.76,"hi":10.1},{"x":1500,"y":8.95,"lo":7.73,"hi":10.07},{"x":2000,"y":8.9,"lo":7.7,"hi":10.04},{"x":2500,"y":8.86,"lo":7.66,"hi":10.02},{"x":3000,"y":8.8,"lo":7.62,"hi":9.99}
]
},
"hconcat": [
{
 "width": 262, "height": 308, "title": "(a)",
 "layer": [
  {"data": {"name": "pa"}, "mark": {"type": "point", "filled": false, "color": "#1b9e77", "opacity": 0.32, "size": 28, "strokeWidth": 1.3, "clip": true},
   "encoding": {
    "x": {"field": "x", "type": "quantitative", "title": null, "scale": {"domain": [-16, 3116], "nice": false, "zero": false}, "axis": {"values": [0,500,1000,1500,2000,2500,3000], "labelExpr": "indexof([0,500,1500,2500], datum.value) >= 0 ? datum.label : ''"}},
    "y": {"field": "y", "type": "quantitative", "title": "Alpha diversity", "scale": {"domain": [0.08, 7.94], "nice": false, "zero": false}, "axis": {"values": [2,4,6]}}}},
  {"data": {"name": "la"}, "mark": {"type": "area", "color": "#1b9e77", "opacity": 0.3, "interpolate": "monotone", "clip": true},
   "encoding": {"x": {"field": "x", "type": "quantitative", "title": null}, "y": {"field": "lo", "type": "quantitative", "title": "Alpha diversity"}, "y2": {"field": "hi"}}},
  {"data": {"name": "la"}, "mark": {"type": "line", "color": "#1b9e77", "strokeWidth": 3.5, "interpolate": "monotone", "clip": true},
   "encoding": {"x": {"field": "x", "type": "quantitative", "title": null}, "y": {"field": "y", "type": "quantitative", "title": "Alpha diversity"}}}
 ]
},
{
 "width": 262, "height": 308, "title": "(b)",
 "layer": [
  {"data": {"name": "pb"}, "mark": {"type": "point", "filled": false, "color": "#1b9e77", "opacity": 0.32, "size": 28, "strokeWidth": 1.3, "clip": true},
   "encoding": {
    "x": {"field": "x", "type": "quantitative", "title": "Mean dispersal distance [m]", "scale": {"domain": [-16, 3116], "nice": false, "zero": false}, "axis": {"values": [0,500,1000,1500,2000,2500,3000], "labelExpr": "indexof([0,500,1500,2500], datum.value) >= 0 ? datum.label : ''"}},
    "y": {"field": "y", "type": "quantitative", "title": "Beta diversity", "scale": {"domain": [0.25, 9.72], "nice": false, "zero": false}, "axis": {"values": [2,4,6,8]}}}},
  {"data": {"name": "lb"}, "mark": {"type": "area", "color": "#1b9e77", "opacity": 0.3, "interpolate": "monotone", "clip": true},
   "encoding": {"x": {"field": "x", "type": "quantitative", "title": "Mean dispersal distance [m]"}, "y": {"field": "lo", "type": "quantitative", "title": "Beta diversity"}, "y2": {"field": "hi"}}},
  {"data": {"name": "lb"}, "mark": {"type": "line", "color": "#1b9e77", "strokeWidth": 3.5, "interpolate": "monotone", "clip": true},
   "encoding": {"x": {"field": "x", "type": "quantitative", "title": "Mean dispersal distance [m]"}, "y": {"field": "y", "type": "quantitative", "title": "Beta diversity"}}}
 ]
},
{
 "width": 262, "height": 308, "title": "(c)",
 "layer": [
  {"data": {"name": "pc"}, "mark": {"type": "point", "filled": false, "color": "#1b9e77", "opacity": 0.32, "size": 28, "strokeWidth": 1.3, "clip": true},
   "encoding": {
    "x": {"field": "x", "type": "quantitative", "title": null, "scale": {"domain": [-16, 3116], "nice": false, "zero": false}, "axis": {"values": [0,500,1000,1500,2000,2500,3000], "labelExpr": "indexof([0,500,1500,2500], datum.value) >= 0 ? datum.label : ''"}},
    "y": {"field": "y", "type": "quantitative", "title": "Gamma diversity", "scale": {"domain": [2.11, 15.36], "nice": false, "zero": false}, "axis": {"values": [4,6,8,10,12,14]}}}},
  {"data": {"name": "lc"}, "mark": {"type": "area", "color": "#1b9e77", "opacity": 0.3, "interpolate": "monotone", "clip": true},
   "encoding": {"x": {"field": "x", "type": "quantitative", "title": null}, "y": {"field": "lo", "type": "quantitative", "title": "Gamma diversity"}, "y2": {"field": "hi"}}},
  {"data": {"name": "lc"}, "mark": {"type": "line", "color": "#1b9e77", "strokeWidth": 3.5, "interpolate": "monotone", "clip": true},
   "encoding": {"x": {"field": "x", "type": "quantitative", "title": null}, "y": {"field": "y", "type": "quantitative", "title": "Gamma diversity"}}}
 ]
}
]
}
